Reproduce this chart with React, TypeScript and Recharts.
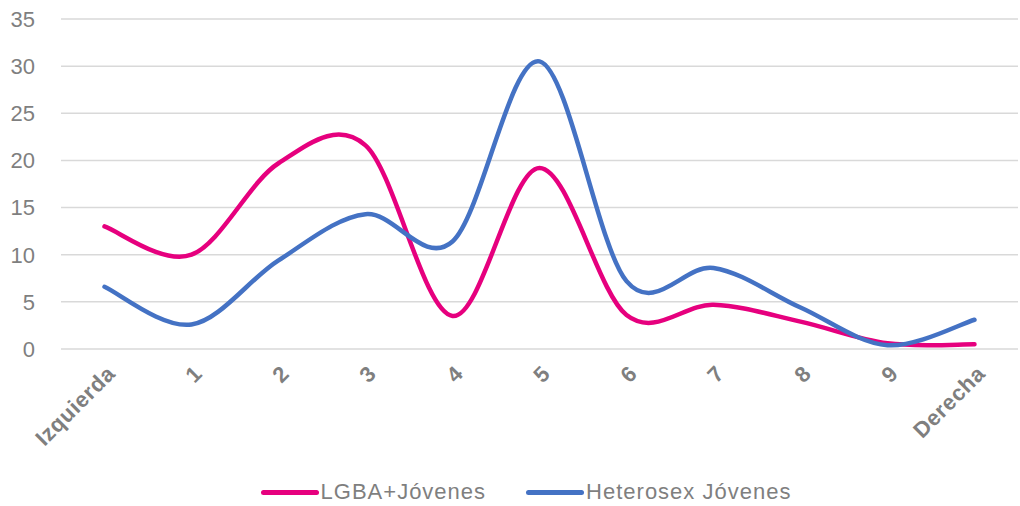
import React from "react";
import {
  LineChart,
  Line,
  XAxis,
  YAxis,
  CartesianGrid,
  Legend,
} from "recharts";

const categories = ["Izquierda", "1", "2", "3", "4", "5", "6", "7", "8", "9", "Derecha"];
const lgbaJovenes = [13.0, 10.0, 19.7, 21.6, 3.5, 19.2, 3.6, 4.7, 2.9, 0.6, 0.5];
const heteroJovenes = [6.6, 2.6, 9.4, 14.3, 11.4, 30.5, 7.2, 8.6, 4.4, 0.4, 3.1];
const yTicks = [0, 5, 10, 15, 20, 25, 30, 35];

const SERIES = [
  { key: "lgba", name: "LGBA+Jóvenes", color: "#E6007E", values: lgbaJovenes },
  { key: "hetero", name: "Heterosex Jóvenes", color: "#4472C4", values: heteroJovenes },
];

const data = categories.map((cat, i) => ({
  cat,
  lgba: lgbaJovenes[i],
  hetero: heteroJovenes[i],
}));

const GRAY = "#7F7F7F";
const FONT = "'Liberation Sans', Arial, sans-serif";

// Excel-style smoothed line (Catmull-Rom through every point)
const excelSmooth = (context: any) => {
  let pts: number[][] = [];
  return {
    areaStart() {},
    areaEnd() {},
    lineStart() {
      pts = [];
    },
    point(x: number, y: number) {
      pts.push([+x, +y]);
    },
    lineEnd() {
      if (!pts.length) return;
      context.moveTo(pts[0][0], pts[0][1]);
      for (let i = 0; i < pts.length - 1; i++) {
        const p0 = pts[i - 1] || pts[i];
        const p1 = pts[i];
        const p2 = pts[i + 1];
        const p3 = pts[i + 2] || pts[i + 1];
        context.bezierCurveTo(
          p1[0] + (p2[0] - p0[0]) / 6,
          p1[1] + (p2[1] - p0[1]) / 6,
          p2[0] - (p3[0] - p1[0]) / 6,
          p2[1] - (p3[1] - p1[1]) / 6,
          p2[0],
          p2[1]
        );
      }
    },
  };
};

const XTick = (props: any) => {
  const { x, y, payload } = props;
  return (
    <g transform={`translate(${x + 12},${y + 18})`}>
      <text
        transform="rotate(-45)"
        textAnchor="end"
        fill={GRAY}
        fontSize={22}
        fontWeight="bold"
        fontFamily={FONT}
        letterSpacing={0.6}
      >
        {payload.value}
      </text>
    </g>
  );
};

const LegendContent = () => (
  <div
    style={{
      display: "flex",
      justifyContent: "center",
      gap: 40,
      fontFamily: FONT,
      fontSize: 22,
      color: GRAY,
      letterSpacing: 1,
    }}
  >
    {SERIES.map((s) => (
      <div key={s.key} style={{ display: "flex", alignItems: "center" }}>
        <span
          style={{
            display: "inline-block",
            width: 58,
            height: 5,
            borderRadius: 3,
            background: s.color,
            marginRight: 2,
          }}
        />
        <span>{s.name}</span>
      </div>
    ))}
  </div>
);

export default function App() {
  return (
    <div style={{ position: "absolute", left: 0, top: 0, background: "#fff" }}>
      <LineChart
        width={1020}
        height={506}
        data={data}
        margin={{ top: 19, right: 2, bottom: 37, left: 0 }}
      >
        <CartesianGrid vertical={false} stroke="#D9D9D9" strokeWidth={1.5} />
        <XAxis
          dataKey="cat"
          height={120}
          axisLine={false}
          tickLine={false}
          interval={0}
          padding={{ left: 43.5, right: 43.5 }}
          tick={<XTick />}
        />
        <YAxis
          width={61}
          domain={[0, 35]}
          ticks={yTicks}
          axisLine={false}
          tickLine={false}
          tickMargin={20}
          tick={{ fill: GRAY, fontSize: 22, fontFamily: FONT }}
        />
        <Legend
          layout="horizontal"
          verticalAlign="middle"
          align="center"
          wrapperStyle={{ top: 479, left: 16, width: 1020 }}
          content={<LegendContent />}
        />
        {SERIES.map((s) => (
          <Line
            key={s.key}
            dataKey={s.key}
            name={s.name}
            type={excelSmooth as any}
            stroke={s.color}
            strokeWidth={4.5}
            strokeLinecap="round"
            dot={false}
            activeDot={false}
            isAnimationActive={false}
          />
        ))}
      </LineChart>
    </div>
  );
}
